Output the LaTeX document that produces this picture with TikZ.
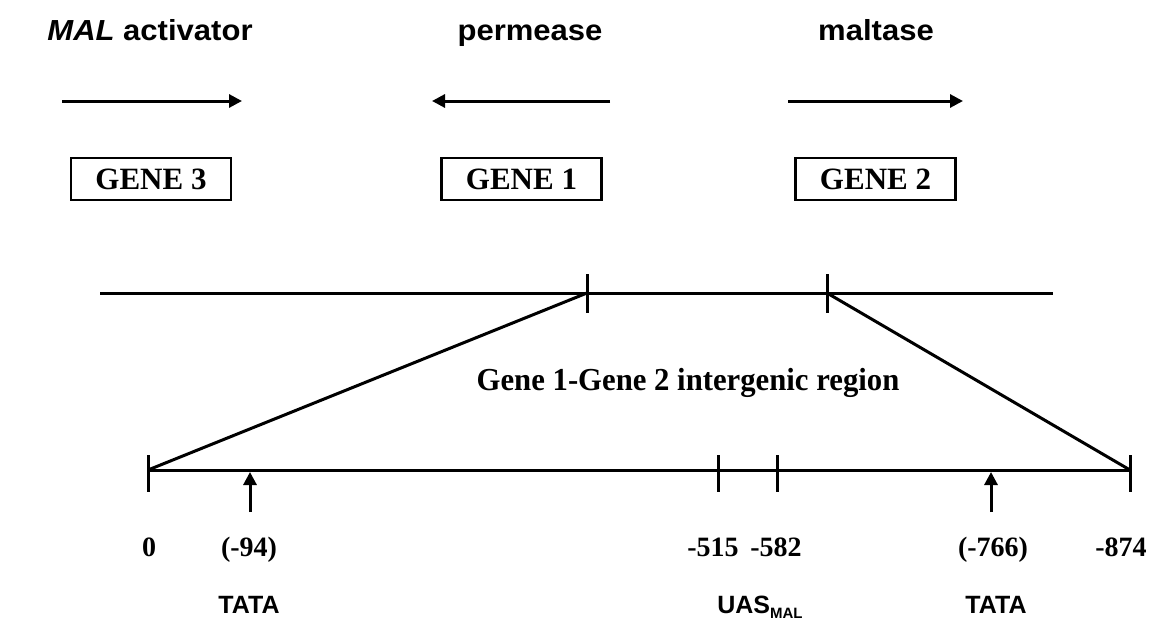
\documentclass[tikz,border=0pt]{standalone}
\usepackage{fontspec}
\setmainfont{Liberation Serif}
\newfontfamily\hsans{Liberation Sans}
\usetikzlibrary{arrows.meta}
\begin{document}
\begin{tikzpicture}[x=1pt,y=-1pt,
  sanslab/.style={font=\hsans\bfseries\fontsize{29}{33}\selectfont, inner sep=0pt, anchor=base},
  sitelab/.style={font=\hsans\bfseries\fontsize{25}{29}\selectfont, inner sep=0pt, anchor=base},
  serlab/.style={font=\bfseries\fontsize{28}{32}\selectfont, inner sep=0pt, anchor=base},
  genebox/.style={draw, line width=2.6pt, minimum width=160pt, minimum height=42pt, inner sep=0pt, font=\bfseries\fontsize{31}{36}\selectfont},
  dirarrow/.style={line width=3pt, -{Triangle[length=13pt,width=13pt]}},
  dna/.style={line width=3pt},
  tickmark/.style={line width=3pt},
  sitearrow/.style={line width=3pt, -{Triangle[length=13pt,width=13pt]}}]
\useasboundingbox[fill=white] (0,0) rectangle (1153,621);

% top labels
\node[sanslab] (lab3) at (150,40) {\scalebox{1.07}[1]{\textit{MAL} activator}};
\node[sanslab] (lab1) at (530,40) {\scalebox{1.07}[1]{permease}};
\node[sanslab] (lab2) at (876,40) {\scalebox{1.07}[1]{maltase}};

% direction arrows
\coordinate (a3s) at (62,101);  \coordinate (a3e) at (242,101);
\coordinate (a1s) at (610,101); \coordinate (a1e) at (432,101);
\coordinate (a2s) at (788,101); \coordinate (a2e) at (963,101);
\draw[dirarrow] (a3s) -- (a3e);
\draw[dirarrow] (a1s) -- (a1e);
\draw[dirarrow] (a2s) -- (a2e);

% gene boxes
\node[genebox] (g3) at (151,179) {GENE 3};
\node[genebox] (g1) at (521.5,179) {GENE 1};
\node[genebox] (g2) at (875.5,179) {GENE 2};

% chromosome line
\coordinate (L) at (100,293);
\coordinate (R) at (1053,293);
\coordinate (J1) at (587,293);
\coordinate (J2) at (827,293);
\coordinate (J1a) at (587,274); \coordinate (J1b) at (587,313);
\coordinate (J2a) at (827,274); \coordinate (J2b) at (827,313);
\draw[dna] (L) -- (R);
\draw[tickmark] (J1a) -- (J1b);
\draw[tickmark] (J2a) -- (J2b);

% intergenic region
\coordinate (B0) at (148,470);
\coordinate (B515) at (718,470);
\coordinate (B582) at (777,470);
\coordinate (B874) at (1130,470);
\draw[dna] (B0) -- (B874);
\foreach \p/\x in {B0/148,B515/718,B582/777,B874/1130}{
  \coordinate (\p a) at (\x,455); \coordinate (\p b) at (\x,492);
  \draw[tickmark] (\p a) -- (\p b);
}
\draw[dna] (J1) -- (B0);
\draw[dna] (J2) -- (B874);

\node[font=\bfseries\fontsize{32}{36}\selectfont, inner sep=0pt, anchor=base] (ig) at (688,390) {\scalebox{0.96}[1]{Gene 1-Gene 2 intergenic region}};

% TATA arrows
\coordinate (s94b) at (250,512);  \coordinate (s94) at (250,472);
\coordinate (s766b) at (991,512); \coordinate (s766) at (991,472);
\draw[sitearrow] (s94b) -- (s94);
\draw[sitearrow] (s766b) -- (s766);

% position labels
\node[serlab] (n0) at (149,556) {0};
\node[serlab] (n94) at (249,556) {(-94)};
\node[serlab] (n515) at (713,556) {-515};
\node[serlab] (n582) at (776,556) {-582};
\node[serlab] (n766) at (993,556) {(-766)};
\node[serlab] (n874) at (1121,556) {-874};

% site labels
\node[sitelab] (tata1) at (249,613) {TATA};
\node[sitelab] (uas) at (760,613) {UAS\raisebox{-5pt}{\fontsize{15}{18}\selectfont MAL}};
\node[sitelab] (tata2) at (996,613) {TATA};
\end{tikzpicture}
\end{document}
